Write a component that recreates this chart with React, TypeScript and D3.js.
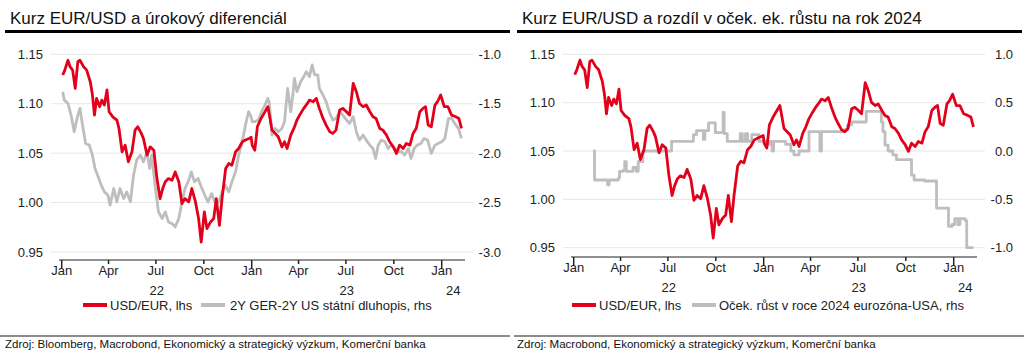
import React from "react";
import * as d3 from "d3";

// ---------- DATA ----------
const eurusdDates = [
  "2022-01-03","2022-01-07","2022-01-13","2022-01-17","2022-01-22","2022-01-27","2022-02-01","2022-02-05","2022-02-12","2022-02-18",
  "2022-02-25","2022-03-01","2022-03-05","2022-03-09","2022-03-15","2022-03-19","2022-03-24","2022-03-29","2022-04-02","2022-04-09",
  "2022-04-17","2022-04-21","2022-04-27","2022-05-03","2022-05-09","2022-05-16","2022-05-22","2022-05-27","2022-06-03","2022-06-07",
  "2022-06-14","2022-06-20","2022-06-27","2022-07-03","2022-07-09","2022-07-14","2022-07-19","2022-07-25","2022-08-01","2022-08-07",
  "2022-08-14","2022-08-20","2022-08-26","2022-09-02","2022-09-08","2022-09-15","2022-09-21","2022-09-26","2022-10-02","2022-10-07",
  "2022-10-14","2022-10-20","2022-10-25","2022-10-31","2022-11-05","2022-11-12","2022-11-18","2022-11-24","2022-12-01","2022-12-07",
  "2022-12-14","2022-12-20","2022-12-27","2022-12-31","2023-01-02","2023-01-07","2023-01-12","2023-01-19","2023-01-25","2023-02-01",
  "2023-02-04","2023-02-09","2023-02-15","2023-02-21","2023-02-28","2023-03-05","2023-03-10","2023-03-17","2023-03-23","2023-03-29",
  "2023-04-05","2023-04-11","2023-04-18","2023-04-22","2023-04-29","2023-05-05","2023-05-11","2023-05-18","2023-05-24","2023-05-31",
  "2023-06-06","2023-06-12","2023-06-19","2023-06-25","2023-07-02","2023-07-08","2023-07-15","2023-07-21","2023-07-27","2023-08-03",
  "2023-08-09","2023-08-16","2023-08-22","2023-08-28","2023-09-04","2023-09-10","2023-09-17","2023-09-23","2023-09-30","2023-10-06",
  "2023-10-12","2023-10-19","2023-10-25","2023-11-01","2023-11-07","2023-11-13","2023-11-20","2023-11-26","2023-12-01","2023-12-06",
  "2023-12-12","2023-12-19","2023-12-24","2023-12-30","2024-01-06","2024-01-13","2024-01-20","2024-01-28","2024-02-03","2024-02-08",
];
const eurusdValues = [
  1.129,1.134,1.144,1.1375,1.134,1.1155,1.1426,1.144,1.1375,1.134,
  1.122,1.109,1.0885,1.1054,1.097,1.1037,1.0987,1.1139,1.0919,1.0868,
  1.0835,1.075,1.0514,1.0581,1.0412,1.0514,1.0733,1.0767,1.070,1.0649,
  1.048,1.0564,1.053,1.0243,1.004,1.0142,1.021,1.0243,1.0226,1.031,
  1.021,0.999,1.004,1.0007,1.0142,1.0007,0.9838,0.960,0.9906,0.9737,
  0.9804,0.9838,1.004,0.977,1.004,1.0345,1.0395,1.0378,1.0514,1.0547,
  1.0615,1.0632,1.0649,1.066,1.058,1.053,1.077,1.0851,1.0905,1.097,
  1.0885,1.0733,1.070,1.0666,1.0564,1.0615,1.0547,1.0683,1.075,1.0835,
  1.0902,1.0953,1.1003,1.1037,1.102,1.1054,1.0953,1.0851,1.0784,1.0716,
  1.070,1.0733,1.0936,1.0953,1.0919,1.0885,1.1206,1.1122,1.1003,1.097,
  1.0987,1.0919,1.0868,1.0851,1.075,1.0733,1.0683,1.0615,1.0564,1.0497,
  1.0581,1.0547,1.0598,1.0581,1.070,1.075,1.0919,1.0953,1.097,1.0784,
  1.0767,1.0987,1.102,1.1088,1.097,1.097,1.0885,1.0868,1.0851,1.075,
];

const spreadDates = [
  "2022-01-03","2022-01-06","2022-01-13","2022-01-19","2022-01-25","2022-02-01","2022-02-05","2022-02-10","2022-02-16","2022-02-23",
  "2022-03-01","2022-03-06","2022-03-11","2022-03-18","2022-03-24","2022-03-31","2022-04-04","2022-04-11","2022-04-17","2022-04-23",
  "2022-04-30","2022-05-06","2022-05-13","2022-05-19","2022-05-25","2022-06-01","2022-06-07","2022-06-14","2022-06-19","2022-06-23",
  "2022-06-30","2022-07-06","2022-07-13","2022-07-19","2022-07-25","2022-08-01","2022-08-07","2022-08-14","2022-08-20","2022-08-26",
  "2022-09-02","2022-09-07","2022-09-13","2022-09-20","2022-09-26","2022-10-03","2022-10-09","2022-10-16","2022-10-22","2022-10-30",
  "2022-11-05","2022-11-11","2022-11-18","2022-11-24","2022-12-01","2022-12-07","2022-12-14","2022-12-20","2022-12-26","2022-12-31",
  "2023-01-02","2023-01-07","2023-01-14","2023-01-20","2023-01-25","2023-02-01","2023-02-04","2023-02-09","2023-02-15","2023-02-21",
  "2023-02-28","2023-03-05","2023-03-11","2023-03-17","2023-03-21","2023-03-24","2023-03-29","2023-04-05","2023-04-11","2023-04-16",
  "2023-04-22","2023-04-27","2023-05-02","2023-05-08","2023-05-11","2023-05-18","2023-05-24","2023-05-31","2023-06-06","2023-06-12",
  "2023-06-19","2023-06-25","2023-07-02","2023-07-08","2023-07-15","2023-07-21","2023-07-27","2023-08-03","2023-08-09","2023-08-16",
  "2023-08-22","2023-08-27","2023-09-01","2023-09-07","2023-09-14","2023-09-20","2023-09-26","2023-10-03","2023-10-09","2023-10-16",
  "2023-10-22","2023-10-29","2023-11-03","2023-11-09","2023-11-15","2023-11-22","2023-11-28","2023-12-05","2023-12-12","2023-12-19",
  "2023-12-25","2024-01-01","2024-01-07","2024-01-14","2024-01-20","2024-01-26","2024-02-02","2024-02-08",
];
const spreadValues = [
  -1.378,-1.463,-1.497,-1.615,-1.784,-1.615,-1.547,-1.716,-1.902,-1.919,
  -2.020,-2.155,-2.223,-2.324,-2.392,-2.426,-2.527,-2.358,-2.493,-2.358,
  -2.459,-2.392,-2.493,-2.223,-2.071,-2.020,-2.088,-1.986,-2.155,-2.020,
  -2.358,-2.594,-2.662,-2.594,-2.696,-2.713,-2.746,-2.662,-2.493,-2.358,
  -2.274,-2.189,-2.290,-2.257,-2.341,-2.426,-2.493,-2.409,-2.493,-2.493,
  -2.392,-2.324,-2.392,-2.290,-2.189,-2.020,-1.885,-1.716,-1.581,-1.632,
  -1.682,-1.682,-1.665,-1.581,-1.530,-1.446,-1.497,-1.817,-1.750,-1.784,
  -1.750,-1.682,-1.345,-1.581,-1.412,-1.243,-1.378,-1.277,-1.226,-1.176,
  -1.226,-1.108,-1.209,-1.209,-1.345,-1.412,-1.480,-1.598,-1.665,-1.649,
  -1.581,-1.615,-1.665,-1.699,-1.632,-1.784,-1.868,-1.817,-1.868,-1.919,
  -1.953,-2.054,-1.919,-1.868,-1.885,-1.953,-1.919,-1.953,-1.986,-1.986,
  -2.020,-1.953,-2.054,-1.953,-1.919,-1.902,-1.851,-1.868,-2.003,-1.919,
  -1.902,-1.885,-1.851,-1.649,-1.649,-1.699,-1.750,-1.851,
];

const growthDates = [
  "2022-02-07","2022-02-10","2022-03-07","2022-03-10","2022-03-28","2022-03-30","2022-04-06","2022-04-09","2022-04-12","2022-04-25",
  "2022-05-01","2022-05-05","2022-05-14","2022-07-08","2022-08-19","2022-08-25","2022-09-07","2022-09-10","2022-09-17","2022-09-30",
  "2022-10-15","2022-10-17","2022-10-23","2022-11-17","2022-11-21","2022-11-27","2022-12-01","2022-12-09","2022-12-23","2023-01-08",
  "2023-01-14","2023-01-17","2023-01-20","2023-02-12","2023-02-22","2023-02-28","2023-03-10","2023-03-29","2023-04-19","2023-04-22",
  "2023-06-05","2023-06-11","2023-06-19","2023-07-17","2023-08-15","2023-08-18","2023-08-22","2023-08-28","2023-09-06","2023-09-13",
  "2023-10-12","2023-10-17","2023-11-06","2023-11-29","2023-12-22","2023-12-29","2024-01-03","2024-01-09","2024-01-13","2024-01-23",
  "2024-01-26","2024-02-08",
];
const growthValues = [
  0.0,-0.30,-0.35,-0.30,-0.28,-0.21,-0.20,-0.11,-0.21,-0.17,
  -0.21,-0.11,0.0,0.10,0.17,0.21,0.12,0.21,0.29,0.19,
  0.40,0.18,0.10,0.18,0.10,0.18,0.10,0.17,0.10,0.07,
  0.10,0.0,0.10,0.07,0.0,-0.04,0.0,0.20,0.0,0.20,
  0.22,0.27,0.30,0.41,0.30,0.20,0.06,0.0,-0.04,-0.09,
  -0.25,-0.30,-0.31,-0.59,-0.78,-0.76,-0.70,-0.76,-0.70,-0.72,
  -1.0,-1.0,
];

const leftTicks = [0.95, 1.0, 1.05, 1.1, 1.15];
const rightTicksA = [-3.0, -2.5, -2.0, -1.5, -1.0];
const rightTicksB = [-1.0, -0.5, 0.0, 0.5, 1.0];
const monthTicks = [
  "2022-01-01","2022-04-01","2022-07-01","2022-10-01",
  "2023-01-01","2023-04-01","2023-07-01","2023-10-01","2024-01-01",
];
const years = ["22", "23", "24"];

const titleA = "Kurz EUR/USD a úrokový diferenciál";
const titleB = "Kurz EUR/USD a rozdíl v oček. ek. růstu na rok 2024";
const legendRed = "USD/EUR, lhs";
const legendGrayA = "2Y GER-2Y US státní dluhopis, rhs";
const legendGrayB = "Oček. růst v roce 2024 eurozóna-USA, rhs";
const sourceA = "Zdroj: Bloomberg, Macrobond, Ekonomický a strategický výzkum, Komerční banka";
const sourceB = "Zdroj: Macrobond, Ekonomický a strategický výzkum, Komerční banka";

// ---------- STYLE ----------
const FONT = "'Liberation Sans', Arial, Helvetica, sans-serif";
const RED = "#E3001B";
const GRAY = "#C0BDBD";
const GRID = "#E6E6E6";
const MONTHS = ["Jan","Feb","Mar","Apr","May","Jun","Jul","Aug","Sep","Oct","Nov","Dec"];

const parse = d3.utcParse("%Y-%m-%d");
const fmt1 = (v: number) => d3.format(".1f")(v).replace("\u2212", "-");

type PanelProps = {
  x0: number;
  title: string;
  yTop: number;
  yBot: number;
  axisY: number;
  tickLabelY: number;
  yearLabelY: number;
  rightTicks: number[];
  grayDates: string[];
  grayValues: number[];
  grayStep: boolean;
  legendGray: string;
  legend: { r0: number; rText: number; g0: number; gText: number };
  source: string;
};

function Panel(p: PanelProps) {
  const { x0 } = p;
  const x = d3
    .scaleUtc()
    .domain([parse("2022-01-01")!, parse("2024-01-01")!])
    .range([x0 + 61.7, x0 + 441.7]);
  const yL = d3.scaleLinear().domain([0.95, 1.15]).range([p.yBot, p.yTop]);
  const yR = d3
    .scaleLinear()
    .domain([p.rightTicks[0], p.rightTicks[p.rightTicks.length - 1]])
    .range([p.yBot, p.yTop]);

  const red = eurusdDates.map((d, i) => ({ d: parse(d)!, v: eurusdValues[i] }));
  const gray = p.grayDates.map((d, i) => ({ d: parse(d)!, v: p.grayValues[i] }));

  const lineL = d3
    .line<{ d: Date; v: number }>()
    .x((e) => x(e.d))
    .y((e) => yL(e.v));
  const lineR = d3
    .line<{ d: Date; v: number }>()
    .x((e) => x(e.d))
    .y((e) => yR(e.v))
    .curve(p.grayStep ? d3.curveStepAfter : d3.curveLinear);

  const gridX0 = x0 + 51;
  const gridX1 = x0 + 473;
  const axisX0 = x0 + 59;
  const axisX1 = x0 + 465;

  const mt = monthTicks.map((s) => parse(s)!);
  const yearStarts = ["2022-01-01", "2023-01-01", "2024-01-01", "2025-01-01"].map((s) => parse(s)!);

  return (
    <g fontFamily={FONT}>
      <text x={x0 + 10} y={24} fontSize={17} fill="#111">
        {p.title}
      </text>
      <line x1={x0 + 5} x2={x0 + 510} y1={31.5} y2={31.5} stroke="#000" strokeWidth={3} />

      {leftTicks.map((t, i) => (
        <g key={t}>
          <line x1={gridX0} x2={gridX1} y1={yL(t)} y2={yL(t)} stroke={GRID} strokeWidth={1} />
          <text x={x0 + 43} y={yL(t)} dy="0.35em" textAnchor="end" fontSize={13} fill="#222">
            {d3.format(".2f")(t)}
          </text>
          <text x={x0 + 501} y={yR(p.rightTicks[i])} dy="0.35em" textAnchor="end" fontSize={13} fill="#222">
            {fmt1(p.rightTicks[i])}
          </text>
        </g>
      ))}

      <path d={lineR(gray) || ""} fill="none" stroke={GRAY} strokeWidth={2.8} strokeLinejoin="round" />
      <path d={lineL(red) || ""} fill="none" stroke={RED} strokeWidth={2.8} strokeLinejoin="round" />

      <line x1={axisX0} x2={axisX1} y1={p.axisY} y2={p.axisY} stroke="#222" strokeWidth={1.2} />
      {mt.map((d) => {
        const isJan = d.getUTCMonth() === 0;
        return (
          <g key={d.toISOString()}>
            <line
              x1={x(d)}
              x2={x(d)}
              y1={p.axisY}
              y2={p.axisY + (isJan ? 8 : 4)}
              stroke="#222"
              strokeWidth={1.5}
            />
            <text x={x(d)} y={p.tickLabelY} textAnchor="middle" fontSize={13} fill="#222">
              {MONTHS[d.getUTCMonth()]}
            </text>
          </g>
        );
      })}
      {years.map((yr, i) => {
        const a = x(yearStarts[i]);
        const b = Math.min(x(yearStarts[i + 1]), axisX1);
        return (
          <text key={yr} x={(a + b) / 2} y={p.yearLabelY} textAnchor="middle" fontSize={13} fill="#222">
            {yr}
          </text>
        );
      })}

      <line x1={x0 + p.legend.r0} x2={x0 + p.legend.r0 + 24} y1={305} y2={305} stroke={RED} strokeWidth={4} />
      <text x={x0 + p.legend.rText} y={309.5} fontSize={13} fill="#222">
        {legendRed}
      </text>
      <line x1={x0 + p.legend.g0} x2={x0 + p.legend.g0 + 24} y1={305} y2={305} stroke={GRAY} strokeWidth={4} />
      <text x={x0 + p.legend.gText} y={309.5} fontSize={13} fill="#222">
        {p.legendGray}
      </text>

      <line x1={x0 + (x0 === 0 ? 0 : 2)} x2={x0 + (x0 === 0 ? 510 : 512)} y1={336} y2={336} stroke="#8c8c8c" strokeWidth={2} />
      <text x={x0 + 5} y={348} fontSize={11.5} fill="#111">
        {p.source}
      </text>
    </g>
  );
}

export default function App() {
  return (
    <svg
      width={1024}
      height={355}
      style={{ position: "absolute", left: 0, top: 0, background: "#fff" }}
    >
      <rect x={0} y={0} width={1024} height={355} fill="#fff" />
      <Panel
        x0={0}
        title={titleA}
        yTop={54.3}
        yBot={252}
        axisY={260}
        tickLabelY={275}
        yearLabelY={295}
        rightTicks={rightTicksA}
        grayDates={spreadDates}
        grayValues={spreadValues}
        grayStep={false}
        legendGray={legendGrayA}
        legend={{ r0: 83, rText: 110, g0: 201, gText: 230 }}
        source={sourceA}
      />
      <Panel
        x0={512}
        title={titleB}
        yTop={54.3}
        yBot={247.7}
        axisY={257}
        tickLabelY={272}
        yearLabelY={292}
        rightTicks={rightTicksB}
        grayDates={growthDates}
        grayValues={growthValues}
        grayStep={true}
        legendGray={legendGrayB}
        legend={{ r0: 60, rText: 87, g0: 180, gText: 207 }}
        source={sourceB}
      />
    </svg>
  );
}
